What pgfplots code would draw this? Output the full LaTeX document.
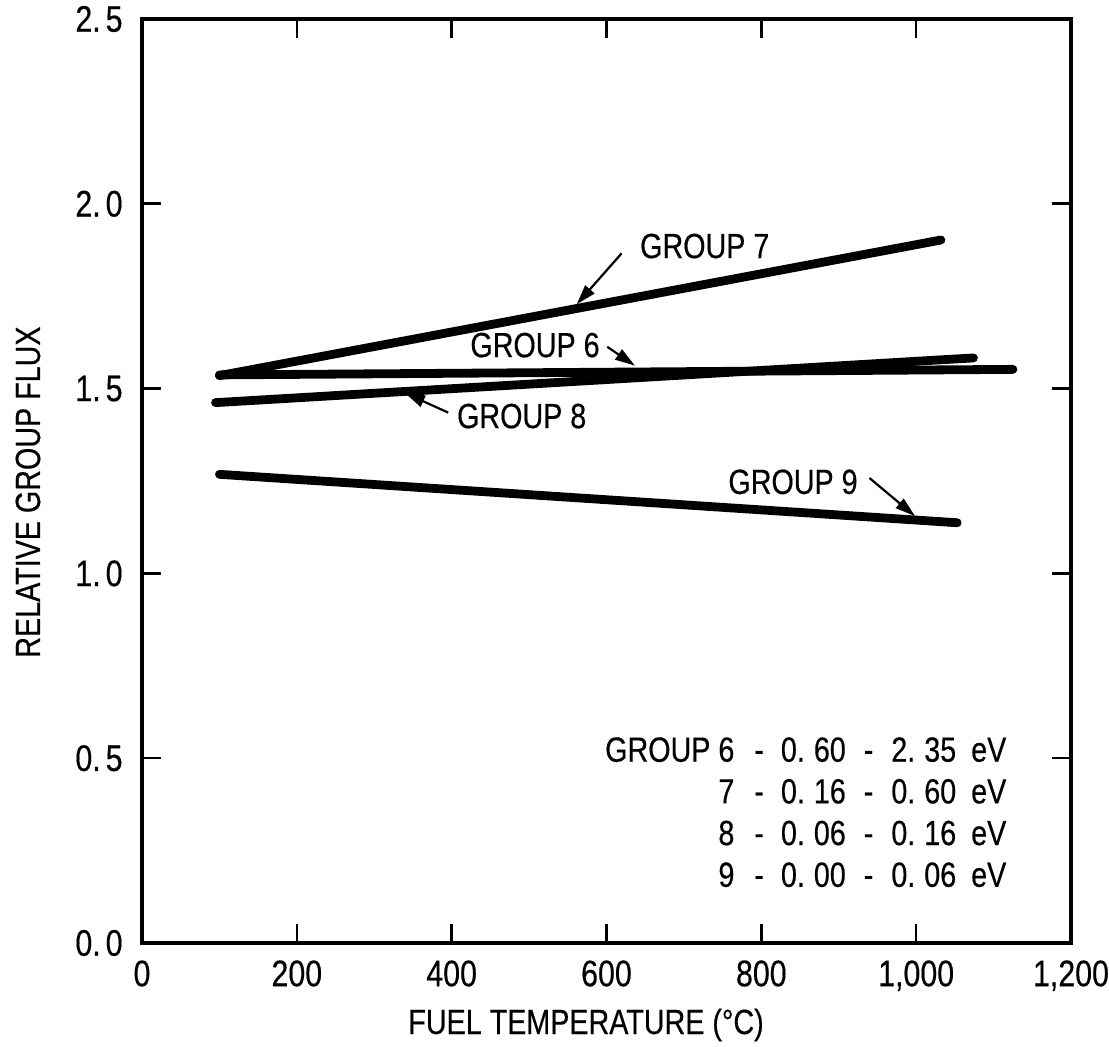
\documentclass[border=0pt]{standalone}
\usepackage{fontspec}
\setmainfont{Liberation Sans}[FakeStretch=0.82, FakeBold=0.4]
\usepackage{pgfplots}
\pgfplotsset{compat=1.18}
\usetikzlibrary{arrows.meta}
\newcommand{\pt}{.\kern4.5pt}
\newcommand{\tp}{.\kern2.5pt}
\begin{document}
\begin{tikzpicture}
\begin{axis}[
  scale only axis, width=464.5pt, height=462pt,
  xmin=0, xmax=1200, ymin=0, ymax=2.5,
  xtick={0,200,400,600,800,1000,1200},
  xticklabels={0,200,400,600,800,{1,000},{1,200}},
  ytick={0,0.5,1,1.5,2,2.5},
  yticklabels={0\tp0,0\tp5,1\tp0,1\tp5,2\tp0,2\tp5},
  tick align=inside, major tick length=9.5pt,
  axis line style={line width=1.6pt},
  tick style={line width=1.3pt, black},
  xticklabel style={font=\fontsize{18.5}{22}\selectfont, inner sep=0pt, yshift=-8.5pt},
  yticklabel style={font=\fontsize{18.5}{22}\selectfont, inner sep=0pt, xshift=-9.5pt},
  xlabel={FUEL TEMPERATURE (°C)},
  ylabel={RELATIVE GROUP FLUX},
  xlabel style={font=\fontsize{17.5}{20}\selectfont, at={(axis description cs:0.478,-0.0985)}, anchor=base, inner sep=0pt},
  ylabel style={font=\fontsize{17.5}{20}\selectfont, at={(axis description cs:-0.1098,0.488)}, anchor=base, inner sep=0pt},
]
\addplot[black, line width=4.4pt, line cap=round] coordinates {(100,1.535) (1032,1.902)};
\addplot[black, line width=4.4pt, line cap=round] coordinates {(100,1.537) (1125,1.552)};
\addplot[black, line width=4.4pt, line cap=round] coordinates {(95,1.462) (1074,1.583)};
\addplot[black, line width=4.4pt, line cap=round] coordinates {(100,1.268) (1053,1.137)};

\node[anchor=base west, inner sep=0pt, font=\fontsize{17.5}{20}\selectfont] at (axis cs:643,1.853) {GROUP 7};
\draw[line width=1.1pt, -{Triangle[length=10pt,width=6pt]}] (axis cs:619.6,1.866) -- (axis cs:561.5,1.728);
\node[anchor=base west, inner sep=0pt, font=\fontsize{17.5}{20}\selectfont] at (axis cs:423.7,1.585) {GROUP 6};
\draw[line width=1.1pt, -{Triangle[length=10pt,width=6pt]}] (axis cs:601,1.613) -- (axis cs:636.8,1.562);
\node[anchor=base west, inner sep=0pt, font=\fontsize{17.5}{20}\selectfont] at (axis cs:406.5,1.393) {GROUP 8};
\draw[line width=1.1pt, -{Triangle[length=10pt,width=6pt]}] (axis cs:395.6,1.435) -- (axis cs:339.7,1.488);
\node[anchor=base west, inner sep=0pt, font=\fontsize{17.5}{20}\selectfont] at (axis cs:757,1.215) {GROUP 9};
\draw[line width=1.1pt, -{Triangle[length=10pt,width=6pt]}] (axis cs:939.7,1.258) -- (axis cs:998.5,1.155);

\node[anchor=base east, inner sep=0pt, font=\fontsize{17.5}{20.85}\selectfont] at (axis cs:1117,0.4905) {%
\begin{tabular}[t]{@{}r@{\hspace{10pt}}c@{\hspace{8.5pt}}r@{\hspace{9pt}}c@{\hspace{9pt}}r@{\hspace{7.5pt}}l@{}}
GROUP 6 & - & 0\pt60 & - & 2\pt35 & eV\\
7 & - & 0\pt16 & - & 0\pt60 & eV\\
8 & - & 0\pt06 & - & 0\pt16 & eV\\
9 & - & 0\pt00 & - & 0\pt06 & eV
\end{tabular}};
\end{axis}
\pgfresetboundingbox
\path (current axis.south west) ++(-71pt,-52pt) rectangle ++(554.5pt,523.5pt);
\end{tikzpicture}
\end{document}
